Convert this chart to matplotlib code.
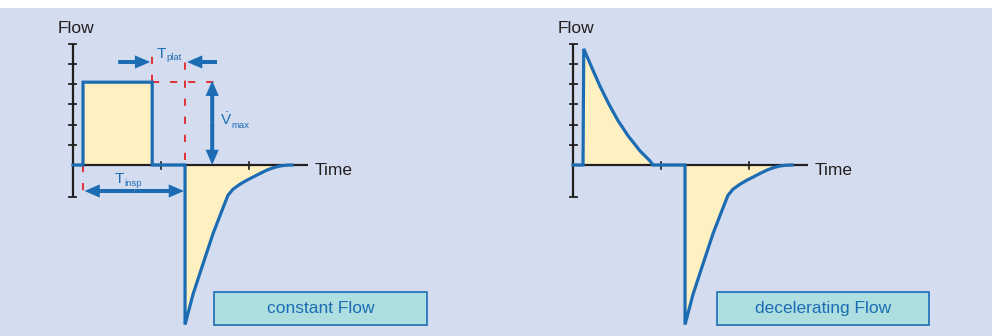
import matplotlib
matplotlib.use('Agg')
import matplotlib.pyplot as plt
from matplotlib.patches import Rectangle

plt.rcParams['font.family'] = ['Liberation Sans', 'DejaVu Sans']
plt.rcParams['mathtext.fontset'] = 'custom'
plt.rcParams['mathtext.rm'] = 'Liberation Sans'

# ---------------- data ----------------
y_label = "Flow"
x_label = "Time"
panel_titles = ["constant Flow", "decelerating Flow"]
time_ticks = [1, 2]
flow_ticks = [1, 2, 3, 4, 5, 6]
flow_axis_min = -1.6
flow_axis_max = 6
time_axis_max = 2.67

# constant flow inspiration
const_t = [0.0, 0.114, 0.114, 0.9, 0.9, 1.273]
const_f = [0.0, 0.0, 4.1, 4.1, 0.0, 0.0]

# decelerating flow inspiration
dec_t = [0.0, 0.114, 0.122, 0.216, 0.307, 0.409, 0.511, 0.625, 0.761, 0.875, 0.909, 1.273]
dec_f = [0.0, 0.0, 5.75, 4.8, 3.9, 3.0, 2.2, 1.45, 0.7, 0.2, 0.0, 0.0]

# passive expiration (same in both panels)
exp_t = [1.273, 1.273, 1.364, 1.477, 1.591, 1.693, 1.761, 1.818, 1.898, 1.977,
         2.045, 2.125, 2.205, 2.28, 2.352, 2.42, 2.49]
exp_f = [0.0, -7.9, -6.4, -4.9, -3.4, -2.25, -1.5, -1.2, -0.95, -0.75,
         -0.6, -0.42, -0.25, -0.13, -0.05, -0.01, 0.0]

# ---------------- style ----------------
W, H = 995, 336
BLUE = '#1c6cb4'
FILL = '#fff0c2'
BG = '#d4ddef'
RED = '#e3232a'
DARK = '#231f20'
BOXFILL = '#aedfe0'
SX, SY = 88.0, 20.2    # px per unit
OY = 165               # zero line (px from top)

fig = plt.figure(figsize=(W / 100, H / 100), dpi=100)
fig.patch.set_facecolor('white')
fig.patches.append(Rectangle((0, 0), 992 / W, (H - 8) / H, transform=fig.transFigure,
                             facecolor=BG, edgecolor='none', zorder=-10))


def make_panel(x0, x1, ox):
    ax = fig.add_axes([x0 / W, 0, (x1 - x0) / W, 1])
    ax.set_xlim((x0 - ox) / SX, (x1 - ox) / SX)
    ax.set_ylim((OY - H) / SY, OY / SY)
    ax.axis('off')
    return ax


def px_dx(px):
    return px / SX


def px_dy(px):
    return px / SY


def draw_axes(ax):
    # y axis
    ax.plot([0, 0], [flow_axis_min, flow_axis_max], color=DARK, lw=1.6, zorder=3,
            solid_capstyle='butt')
    for v in flow_ticks + [flow_axis_min]:
        ax.plot([-px_dx(3.5), px_dx(3.5)], [v, v], color=DARK, lw=1.3, zorder=3)
    # x axis
    ax.plot([0, time_axis_max], [0, 0], color=DARK, lw=1.6, zorder=3,
            solid_capstyle='butt')
    for v in time_ticks:
        ax.plot([v, v], [-px_dy(3.5), px_dy(3.5)], color=DARK, lw=1.2, zorder=3)
    ax.text(-px_dx(15), px_dy(132), y_label, fontsize=12.5, color=DARK,
            ha='left', va='baseline')
    ax.text(px_dx(242), -px_dy(10), x_label, fontsize=12.5, color=DARK,
            ha='left', va='baseline')


def draw_wave(ax, t_in, f_in):
    ax.fill_between(t_in, f_in, 0, color=FILL, lw=0, zorder=1)
    ax.fill_between(exp_t, exp_f, 0, color=FILL, lw=0, zorder=1)
    ax.plot(list(t_in) + exp_t[1:], list(f_in) + exp_f[1:], color=BLUE, lw=2.3,
            zorder=4, solid_joinstyle='miter')


def arrow(ax, tail, tip):
    ax.annotate('', xy=tip, xytext=tail,
                arrowprops=dict(arrowstyle='simple,head_length=11,head_width=9.5,tail_width=2.9',
                                mutation_scale=1, color=BLUE, lw=0,
                                shrinkA=0, shrinkB=0), zorder=5)


def double_arrow(ax, a, b):
    mid = ((a[0] + b[0]) / 2, (a[1] + b[1]) / 2)
    arrow(ax, mid, a)
    arrow(ax, mid, b)


def label_box(px0, px1, text):
    y0, y1 = 292, 325
    fig.patches.append(Rectangle((px0 / W, (H - y1) / H), (px1 - px0) / W,
                                 (y1 - y0) / H, transform=fig.transFigure,
                                 facecolor=BOXFILL, edgecolor=BLUE, lw=1.2, zorder=5))
    fig.text((px0 + px1) / 2 / W, (H - (y0 + y1) / 2) / H, text,
             fontsize=12.5, color=BLUE, ha='center', va='center', zorder=6)


# ---------------- left panel ----------------
axL = make_panel(0, 497, 73)
draw_axes(axL)
draw_wave(axL, const_t, const_f)

t_rise, t_end, t_exp = const_t[1], const_t[3], const_t[5]
f_top = const_f[2]
dash = dict(color=RED, lw=1.3, linestyle=(0, (4, 6)), zorder=2)
y_dash_top = px_dy(112)
axL.plot([t_end, t_end], [f_top, y_dash_top], **dash)
axL.plot([t_exp, t_exp], [px_dy(5), y_dash_top], **dash)
axL.plot([t_end, t_end + px_dx(70)], [f_top, f_top], **dash)
axL.plot([t_rise, t_rise], [0, -px_dy(28)], **dash)

# T_plat arrows
y_plat = px_dy(103)
arrow(axL, (t_end - px_dx(34), y_plat), (t_end - px_dx(2), y_plat))
arrow(axL, (t_exp + px_dx(32), y_plat), (t_exp + px_dx(2), y_plat))
axL.text(t_end + px_dx(4), px_dy(107), 'T', fontsize=11, color=BLUE, ha='left', va='baseline')
axL.text(t_end + px_dx(14), px_dy(104.5), 'plat', fontsize=6.8, color=BLUE, ha='left', va='baseline')

# V_max arrow
t_v = t_end + px_dx(60)
double_arrow(axL, (t_v, f_top + px_dy(1.5)), (t_v, 0))
axL.text(t_v + px_dx(8), px_dy(40), r'$\dot{\mathrm{V}}$', fontsize=11, color=BLUE,
         ha='left', va='baseline')
axL.text(t_v + px_dx(19), px_dy(37), 'max', fontsize=6.8, color=BLUE, ha='left', va='baseline')

# T_insp arrow
y_insp = -px_dy(26)
double_arrow(axL, (t_rise + px_dx(1.5), y_insp), (t_exp - px_dx(1), y_insp))
axL.text(t_rise + px_dx(32), -px_dy(18), 'T', fontsize=11, color=BLUE, ha='left', va='baseline')
axL.text(t_rise + px_dx(41.5), -px_dy(21), 'insp', fontsize=6.8, color=BLUE, ha='left', va='baseline')

label_box(214, 427, panel_titles[0])

# ---------------- right panel ----------------
axR = make_panel(497, 995, 573)
draw_axes(axR)
draw_wave(axR, dec_t, dec_f)
label_box(717, 929, panel_titles[1])

fig.savefig('out.png', dpi=100, facecolor='white')
